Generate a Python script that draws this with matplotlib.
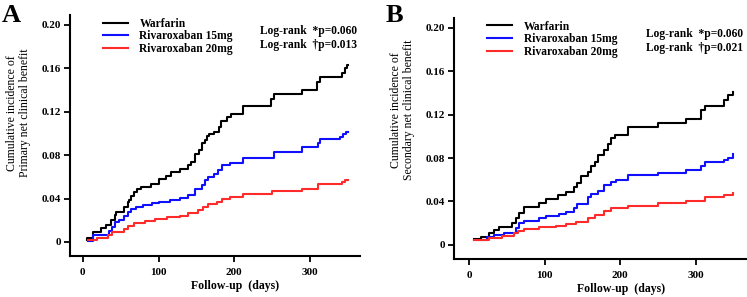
import matplotlib
matplotlib.use('Agg')
import matplotlib.pyplot as plt

plt.rcParams['font.family'] = 'Liberation Serif'
plt.rcParams['font.weight'] = 'bold'

labels = ['Warfarin', 'Rivaroxaban 15mg', 'Rivaroxaban 20mg']
colors = ['black', '#1010ff', '#ff2a2a']

# Panel A - primary net clinical benefit (day, cumulative incidence)
a_warf_days = [5, 6, 14, 24, 31, 37, 42, 44, 55, 59, 61, 64, 68, 72, 77, 90, 101, 110, 117,
               128, 139, 143, 148, 154, 158, 161, 164, 167, 173, 180, 183, 190, 196, 212,
               249, 252, 289, 309, 313, 342, 346, 349, 350]
a_warf_vals = [0.002, 0.004, 0.0095, 0.0126, 0.0156, 0.020, 0.025, 0.028, 0.032, 0.037, 0.039,
               0.042, 0.046, 0.049, 0.051, 0.053, 0.0576, 0.061, 0.064, 0.067, 0.071, 0.074,
               0.081, 0.085, 0.091, 0.094, 0.0975, 0.0995, 0.1014, 0.106, 0.1115, 0.1147,
               0.1177, 0.125, 0.132, 0.1358, 0.1398, 0.147, 0.1514, 0.1557, 0.1597, 0.1628, 0.1628]
a_r15_days = [7, 14, 35, 39, 43, 48, 55, 59, 63, 70, 79, 92, 101, 115, 128, 139, 148, 157, 161,
              166, 173, 179, 184, 195, 212, 252, 289, 311, 313, 340, 344, 348, 350]
a_r15_vals = [0.001, 0.0064, 0.0104, 0.0135, 0.0187, 0.020, 0.024, 0.028, 0.030, 0.0325, 0.034,
              0.036, 0.037, 0.0386, 0.0408, 0.043, 0.049, 0.052, 0.057, 0.060, 0.0625, 0.066,
              0.071, 0.0724, 0.077, 0.083, 0.087, 0.0913, 0.0944, 0.0968, 0.099, 0.101, 0.101]
a_r20_days = [7, 19, 33, 39, 55, 59, 68, 82, 95, 111, 128, 139, 152, 159, 166, 177, 184, 195,
              212, 250, 289, 311, 342, 347, 350]
a_r20_vals = [0.0018, 0.004, 0.0064, 0.0095, 0.0117, 0.0147, 0.0172, 0.0193, 0.0208, 0.0227,
              0.024, 0.0264, 0.0294, 0.0325, 0.0347, 0.037, 0.0392, 0.041, 0.0438, 0.047, 0.049,
              0.053, 0.0555, 0.057, 0.057]

# Panel B - secondary net clinical benefit
b_warf_days = [6, 15, 26, 33, 40, 57, 62, 66, 73, 93, 102, 117, 128, 139, 143, 148, 157, 161,
               166, 170, 179, 184, 188, 193, 210, 250, 287, 307, 312, 338, 343, 349, 350]
b_warf_vals = [0.0052, 0.0076, 0.0107, 0.0138, 0.0168, 0.0199, 0.0245, 0.0297, 0.035, 0.039,
               0.042, 0.046, 0.049, 0.0535, 0.0566, 0.063, 0.067, 0.073, 0.076, 0.0826, 0.087,
               0.093, 0.098, 0.101, 0.1085, 0.112, 0.116, 0.1245, 0.128, 0.1337, 0.1376, 0.1406,
               0.1406]
b_r15_days = [6, 23, 33, 46, 62, 66, 73, 93, 102, 119, 128, 139, 143, 157, 161, 170, 179, 188,
              195, 210, 250, 287, 307, 312, 338, 343, 349, 350]
b_r15_vals = [0.005, 0.007, 0.0092, 0.0113, 0.0153, 0.0199, 0.0223, 0.0245, 0.0266, 0.0284,
              0.0306, 0.0336, 0.038, 0.0443, 0.047, 0.050, 0.055, 0.058, 0.060, 0.064, 0.0663,
              0.0688, 0.0725, 0.0765, 0.078, 0.0804, 0.0835, 0.0835]
b_r20_days = [6, 26, 44, 59, 64, 73, 93, 115, 128, 141, 157, 166, 179, 188, 210, 250, 287, 312,
              338, 349, 350]
b_r20_vals = [0.005, 0.0067, 0.0085, 0.0107, 0.0131, 0.0144, 0.0162, 0.0174, 0.019, 0.0214,
              0.0245, 0.0275, 0.0315, 0.0336, 0.036, 0.0388, 0.0407, 0.0443, 0.0459, 0.048, 0.048]

y_ticks = [0, 0.04, 0.08, 0.12, 0.16, 0.20]
y_tick_labels = ['0', '0.04', '0.08', '0.12', '0.16', '0.20']
x_ticks = [0, 100, 200, 300]

fig = plt.figure(figsize=(7.47, 2.97), dpi=100)


def draw_panel(rect, letter, letter_x, series, ylabel, ylab_y, p2, xlim):
    ax = fig.add_axes(rect)
    for (days, vals), lab, col in zip(series, labels, colors):
        ax.step(days, vals, where='post', color=col, lw=1.5, label=lab)
    ax.set_xlim(*xlim)
    ax.set_ylim(-0.0129, 0.2087)
    ax.set_yticks(y_ticks)
    ax.set_yticklabels(y_tick_labels)
    ax.set_xticks(x_ticks)
    for s in ['top', 'right']:
        ax.spines[s].set_visible(False)
    for s in ['left', 'bottom']:
        ax.spines[s].set_linewidth(1.5)
    ax.tick_params(direction='out', length=4.5, width=1.3, labelsize=8, pad=2)
    ax.tick_params(axis='x', pad=4)
    ax.set_ylabel(ylabel, fontsize=8.5, fontweight='normal', linespacing=1.15)
    ax.yaxis.set_label_coords(-0.133, ylab_y)
    ax.set_xlabel('Follow-up  (days)', fontsize=8.5, fontweight='bold')
    ax.xaxis.set_label_coords(0.57, -0.1)
    ax.legend(loc='upper left', bbox_to_anchor=(0.114, 0.99), frameon=False, fontsize=8.3,
              handlelength=2.15, handletextpad=1.0, labelspacing=0.08, borderaxespad=0,
              borderpad=0)
    ax.text(0.99, 0.935, 'Log-rank  *p=0.060', transform=ax.transAxes, ha='right',
            va='center', fontsize=8.3, fontweight='bold')
    ax.text(0.99, 0.877, 'Log-rank  \u2020p=' + p2, transform=ax.transAxes, ha='right',
            va='center', fontsize=8.3, fontweight='bold')
    fig.text(letter_x, 0.947, letter, fontsize=19, fontweight='bold', va='center')
    return ax


draw_panel([0.0937, 0.138, 0.388, 0.811], 'A', 0.002,
           [(a_warf_days, a_warf_vals), (a_r15_days, a_r15_vals), (a_r20_days, a_r20_vals)],
           'Cumulative incidence of\nPrimary net clinical benefit', 0.593, '0.013', (-17, 366))
draw_panel([0.608, 0.128, 0.391, 0.811], 'B', 0.516,
           [(b_warf_days, b_warf_vals), (b_r15_days, b_r15_vals), (b_r20_days, b_r20_vals)],
           'Cumulative incidence of\nSecondary net clinical benefit', 0.62, '0.021', (-20, 367))

fig.savefig('out.png', dpi=100)
